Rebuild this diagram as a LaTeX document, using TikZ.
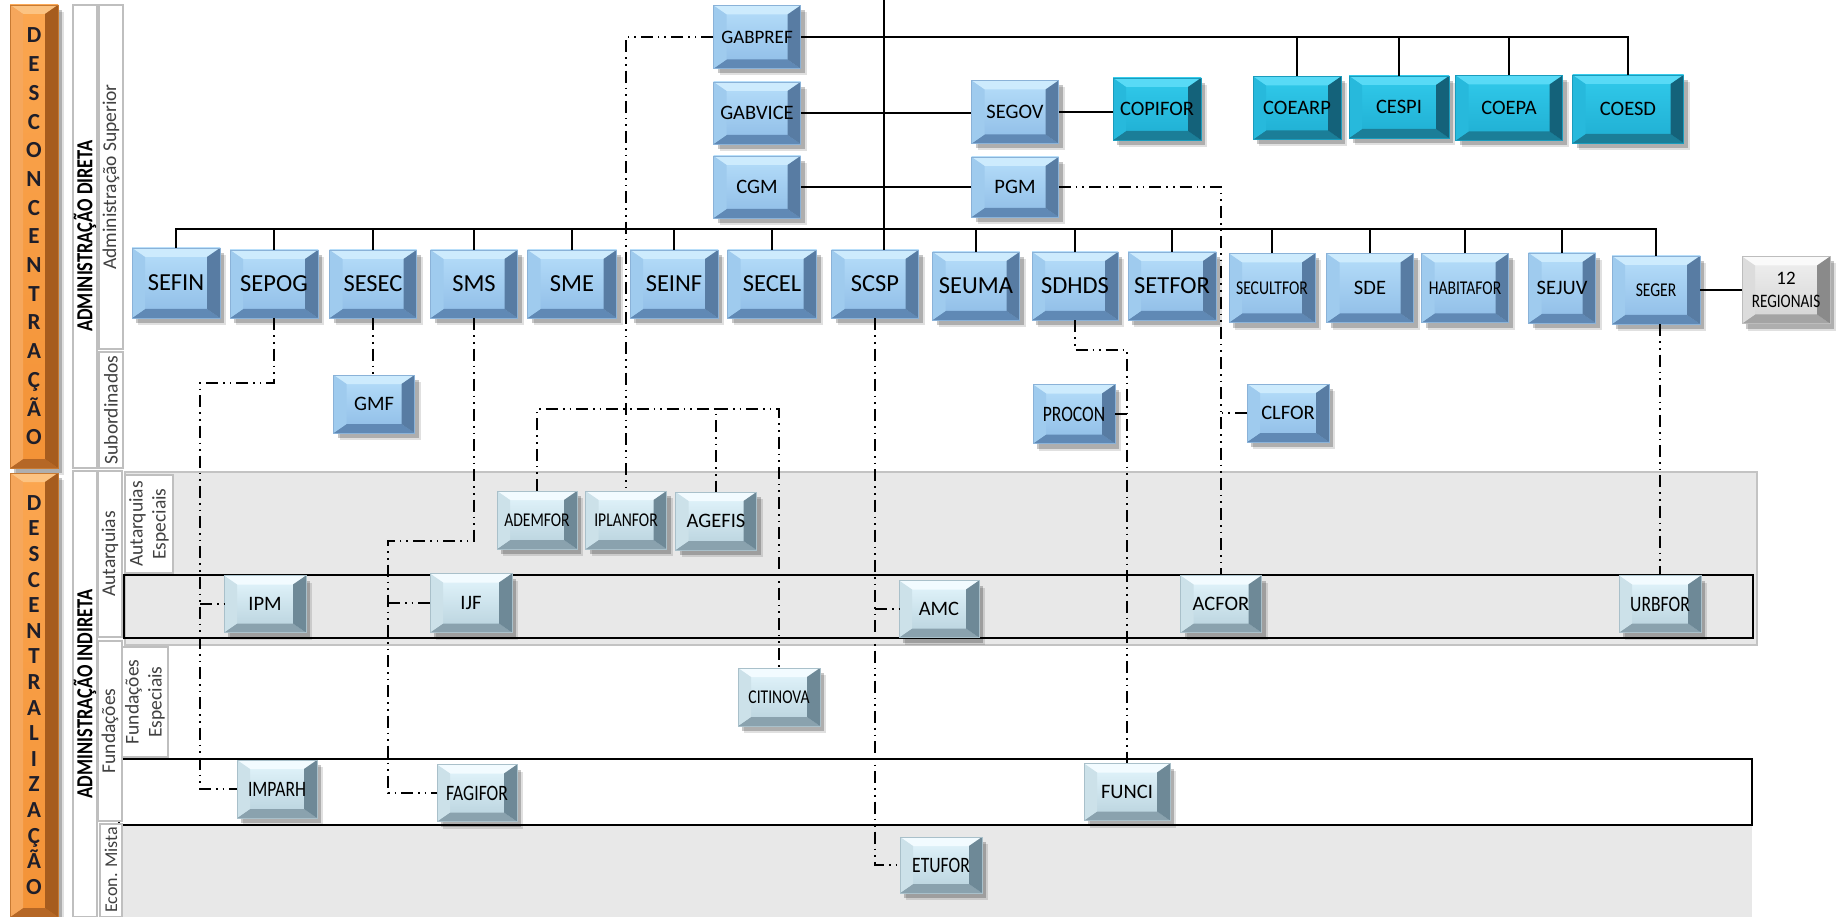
\documentclass[tikz,border=0pt]{standalone}
\usepackage{fontspec}
\setmainfont{Carlito}
\newfontfamily\narrow[FakeStretch=0.8]{Carlito}
\usetikzlibrary{shadows}

% cores dos botoes
\definecolor{azulF1}{HTML}{B6DEFA}
\definecolor{azulF2}{HTML}{8EBCE6}
\definecolor{azulT}{HTML}{CDEBFD}
\definecolor{azulL}{HTML}{9FCBEE}
\definecolor{azulR}{HTML}{587CA3}
\definecolor{azulB}{HTML}{6089B5}
\definecolor{azulD}{HTML}{8AB2D8}
\definecolor{cianoF1}{HTML}{31CAEB}
\definecolor{cianoF2}{HTML}{1FAED2}
\definecolor{cianoT}{HTML}{58DAF6}
\definecolor{cianoL}{HTML}{27B9DC}
\definecolor{cianoR}{HTML}{14627A}
\definecolor{cianoB}{HTML}{1B7E98}
\definecolor{cianoD}{HTML}{1A9CBD}
\definecolor{acoF1}{HTML}{E4F6FD}
\definecolor{acoF2}{HTML}{B7D1DC}
\definecolor{acoT}{HTML}{F2FBFF}
\definecolor{acoL}{HTML}{CCE1E9}
\definecolor{acoR}{HTML}{6E8997}
\definecolor{acoB}{HTML}{8AA2AE}
\definecolor{acoD}{HTML}{A9C0CA}
\definecolor{cinzaF1}{HTML}{F0F0F0}
\definecolor{cinzaF2}{HTML}{D3D3D3}
\definecolor{cinzaT}{HTML}{FAFAFA}
\definecolor{cinzaL}{HTML}{DCDCDC}
\definecolor{cinzaR}{HTML}{8A8A8A}
\definecolor{cinzaB}{HTML}{A4A4A4}
\definecolor{cinzaD}{HTML}{BDBDBD}
\definecolor{laranjaF1}{HTML}{FBA650}
\definecolor{laranjaF2}{HTML}{F39236}
\definecolor{laranjaT}{HTML}{FCC382}
\definecolor{laranjaL}{HTML}{F6A75C}
\definecolor{laranjaR}{HTML}{A65C1E}
\definecolor{laranjaB}{HTML}{B56726}
\definecolor{laranjaD}{HTML}{C77A33}
\definecolor{letra}{HTML}{1E1E2A}
\definecolor{rotcor}{HTML}{404040}
\definecolor{faixaD}{HTML}{BFBFBF}
\definecolor{fundo}{HTML}{E8E8E8}
\definecolor{fundoD}{HTML}{C3C3C3}

\def\bvx{13pt}
\def\bvy{9pt}
\newcommand\botao[1]{%
  \fill[#1T] (path picture bounding box.north west) -- (path picture bounding box.north east)
    -- ([xshift=-\bvx,yshift=-\bvy]path picture bounding box.north east)
    -- ([xshift=\bvx,yshift=-\bvy]path picture bounding box.north west) -- cycle;
  \fill[#1B] (path picture bounding box.south west) -- (path picture bounding box.south east)
    -- ([xshift=-\bvx,yshift=\bvy]path picture bounding box.south east)
    -- ([xshift=\bvx,yshift=\bvy]path picture bounding box.south west) -- cycle;
  \fill[#1L] (path picture bounding box.north west) -- (path picture bounding box.south west)
    -- ([xshift=\bvx,yshift=\bvy]path picture bounding box.south west)
    -- ([xshift=\bvx,yshift=-\bvy]path picture bounding box.north west) -- cycle;
  \fill[#1R] (path picture bounding box.north east) -- (path picture bounding box.south east)
    -- ([xshift=-\bvx,yshift=\bvy]path picture bounding box.south east)
    -- ([xshift=-\bvx,yshift=-\bvy]path picture bounding box.north east) -- cycle;
}

\begin{document}
\begin{tikzpicture}[x=1pt, y=-1pt,
  btn/.style={rectangle, inner sep=1pt, align=center, text=black,
    top color=#1F1, bottom color=#1F2, draw=#1D, line width=0.6pt,
    drop shadow={shadow xshift=6pt, shadow yshift=-7pt, opacity=0.12, fill=black},
    drop shadow={shadow xshift=4pt, shadow yshift=-5pt, opacity=0.22, fill=black},
    path picture={\botao{#1}}},
  sz/.style 2 args={minimum width=#1pt, minimum height=#2pt},
  tA/.style={font=\fontsize{24.5}{26}\selectfont},
  tB/.style={font=\fontsize{20.5}{22}\selectfont},
  tC/.style={font=\narrow\fontsize{22}{24}\selectfont},
  tD/.style={font=\narrow\fontsize{19.5}{22}\selectfont},
  con/.style={draw=black, line width=1.8pt},
  dd/.style={draw=black, line width=1.6pt, dash pattern=on 12pt off 5pt on 1.6pt off 5pt on 1.6pt off 5pt},
  faixa/.style={draw=faixaD, line width=1.5pt, fill=white},
  rot/.style={rotate=90, text=rotcor, font=\fontsize{19.5}{23}\selectfont, align=center},
  forte/.style={rotate=90, text=black, font=\narrow\bfseries\fontsize{23}{25}\selectfont}
]
\useasboundingbox (0,0) rectangle (1839,917);
\fill[white] (0,0) rectangle (1839,917);

% fundos da administracao indireta
\filldraw[fill=fundo, draw=fundoD, line width=1.5pt] (125,472) rectangle (1757,645);
\draw[black, line width=2pt] (124,575) rectangle (1753,638);
\draw[black, line width=2pt, fill=white] (119,759) rectangle (1752,825);
\fill[fundo] (122,826) rectangle (1752,917);

% faixas laterais
\node[btn=laranja, sz={48}{463}, text=letra, font=\bfseries\fontsize{23}{28.7}\selectfont] (DESCONC) at (34,236.5)
  {D\\E\\S\\C\\O\\N\\C\\E\\N\\T\\R\\A\\Ç\\Ã\\O};
\node[btn=laranja, sz={48}{444}, text=letra, font=\bfseries\fontsize{23}{25.6}\selectfont] (DESCENTR) at (34,695)
  {D\\E\\S\\C\\E\\N\\T\\R\\A\\L\\I\\Z\\A\\Ç\\Ã\\O};

\draw[faixa] (73,5) rectangle (97,468);
\node[forte] (admdireta) at (85,236) {ADMINISTRAÇÃO DIRETA};
\draw[faixa] (99,5) rectangle (123,349);
\node[rot] (admsup) at (111,177) {Administração Superior};
\draw[faixa] (99,352) rectangle (123,468);
\node[rot] (subord) at (111,410) {Subordinados};
\draw[faixa] (73,471) rectangle (97,917);
\node[forte] (admind) at (85,694) {ADMINISTRAÇÃO INDIRETA};
\draw[faixa] (98,471) rectangle (122,637);
\node[rot] (autarq) at (110,554) {Autarquias};
\draw[faixa] (98,641) rectangle (122,821);
\node[rot] (fundac) at (110,731) {Fundações};
\draw[faixa] (100,824) rectangle (122,917);
\node[rot, font=\fontsize{18}{19}\selectfont] (econ) at (111,870) {Econ. Mista};
\draw[faixa] (125,475) rectangle (173,573);
\node[rot] (autesp) at (149,524) {Autarquias\\Especiais};
\draw[faixa] (122,647) rectangle (168,757);
\node[rot] (fundesp) at (145,702) {Fundações\\Especiais};

% administracao superior
\node[btn=azul, sz={87}{63}, font=\fontsize{19}{20}\selectfont] (GABPREF) at (757,37) {GABPREF};
\node[btn=azul, sz={87}{62}, tB] (GABVICE) at (757,113) {GABVICE};
\node[btn=azul, sz={87}{62}, tB] (CGM) at (757,187) {CGM};
\node[btn=azul, sz={87}{63}, tB] (SEGOV) at (1015,112) {SEGOV};
\node[btn=azul, sz={87}{60}, tB] (PGM) at (1015,187) {PGM};
\node[btn=ciano, sz={88}{62}, tB] (COPIFOR) at (1157,109) {COPIFOR};
\node[btn=ciano, sz={88}{63}, tB] (COEARP) at (1297,108) {COEARP};
\node[btn=ciano, sz={100}{62}, tB] (CESPI) at (1399,107) {CESPI};
\node[btn=ciano, sz={107}{65}, tB] (COEPA) at (1509,108) {COEPA};
\node[btn=ciano, sz={111}{68}, tB] (COESD) at (1628,109) {COESD};

% secretarias
\node[btn=azul, sz={88}{70}, tA] (SEFIN) at (176,283) {SEFIN};
\node[btn=azul, sz={88}{68}, tA] (SEPOG) at (274,284) {SEPOG};
\node[btn=azul, sz={87}{68}, tA] (SESEC) at (373,284) {SESEC};
\node[btn=azul, sz={87}{68}, tA] (SMS) at (474,284) {SMS};
\node[btn=azul, sz={89}{68}, tA] (SME) at (572,284) {SME};
\node[btn=azul, sz={88}{68}, tA] (SEINF) at (674,284) {SEINF};
\node[btn=azul, sz={89}{68}, tA] (SECEL) at (772,284) {SECEL};
\node[btn=azul, sz={87}{68}, tA] (SCSP) at (875,284) {SCSP};
\node[btn=azul, sz={87}{68}, tA] (SEUMA) at (976,286) {SEUMA};
\node[btn=azul, sz={86}{68}, tA] (SDHDS) at (1075,286) {SDHDS};
\node[btn=azul, sz={88}{68}, tA] (SETFOR) at (1172,286) {SETFOR};
\node[btn=azul, sz={86}{69}, tD] (SECULTFOR) at (1272,288) {SECULTFOR};
\node[btn=azul, sz={87}{69}, tB] (SDE) at (1370,288) {SDE};
\node[btn=azul, sz={87}{69}, tD] (HABITAFOR) at (1465,288) {HABITAFOR};
\node[btn=azul, sz={67}{70}, tB] (SEJUV) at (1562,288) {SEJUV};
\node[btn=azul, sz={88}{68}, tD] (SEGER) at (1656,290) {SEGER};
\node[btn=cinza, sz={88}{67}, font=\fontsize{19}{23}\selectfont] (REG) at (1786,290) {12\\{\narrow REGIONAIS}};

% subordinados
\node[btn=azul, sz={81}{58}, tB] (GMF) at (374,404) {GMF};
\node[btn=azul, sz={82}{59}, tC] (PROCON) at (1074,414) {PROCON};
\node[btn=azul, sz={82}{58}, tB] (CLFOR) at (1288,413) {CLFOR};

% administracao indireta
\node[btn=aco, sz={80}{58}, tD] (ADEMFOR) at (537,520) {ADEMFOR};
\node[btn=aco, sz={81}{58}, tD] (IPLANFOR) at (626,520) {IPLANFOR};
\node[btn=aco, sz={81}{58}, tB] (AGEFIS) at (716,521) {AGEFIS};
\node[btn=aco, sz={82}{57}, tB] (IPM) at (265,604) {IPM};
\node[btn=aco, sz={82}{59}, tB] (IJF) at (471,603) {IJF};
\node[btn=aco, sz={80}{57}, tB] (AMC) at (939,609) {AMC};
\node[btn=aco, sz={81}{57}, tB] (ACFOR) at (1221,604) {ACFOR};
\node[btn=aco, sz={82}{57}, tC] (URBFOR) at (1660,604) {URBFOR};
\node[btn=aco, sz={82}{58}, tD] (CITINOVA) at (779,697) {CITINOVA};
\node[btn=aco, sz={80}{58}, tC] (IMPARH) at (277,789) {IMPARH};
\node[btn=aco, sz={80}{57}, tC] (FAGIFOR) at (477,793) {FAGIFOR};
\node[btn=aco, sz={86}{57}, tB] (FUNCI) at (1127,792) {FUNCI};
\node[btn=aco, sz={82}{56}, tC] (ETUFOR) at (941,865) {ETUFOR};

% linhas cheias
\coordinate (topo) at (884,0);
\coordinate (barra) at (0,229);
\draw[con] (topo) -- (topo |- SCSP.north);
\draw[con] (GABPREF.east) -| (COESD.north);
\draw[con] (COEARP.north) -- (COEARP.north |- GABPREF.east)
  (CESPI.north) -- (CESPI.north |- GABPREF.east)
  (COEPA.north) -- (COEPA.north |- GABPREF.east);
\draw[con] (GABVICE.east) -- (GABVICE.east -| SEGOV.west);
\draw[con] (SEGOV.east) -- (SEGOV.east -| COPIFOR.west);
\draw[con] (CGM.east) -- (PGM.west);
\draw[con] (SEFIN.north) |- (SEGER.north |- barra) -- (SEGER.north);
\draw[con] (SEPOG.north) -- (SEPOG.north |- barra)
  (SESEC.north) -- (SESEC.north |- barra)
  (SMS.north) -- (SMS.north |- barra)
  (SME.north) -- (SME.north |- barra)
  (SEINF.north) -- (SEINF.north |- barra)
  (SECEL.north) -- (SECEL.north |- barra)
  (SEUMA.north) -- (SEUMA.north |- barra)
  (SDHDS.north) -- (SDHDS.north |- barra)
  (SETFOR.north) -- (SETFOR.north |- barra)
  (SECULTFOR.north) -- (SECULTFOR.north |- barra)
  (SDE.north) -- (SDE.north |- barra)
  (HABITAFOR.north) -- (HABITAFOR.north |- barra)
  (SEJUV.north) -- (SEJUV.north |- barra);
\draw[con] (SEGER.east) -- (SEGER.east -| REG.west);

% linhas traco-ponto
\coordinate (espbar) at (0,409);
\coordinate (ipmlin) at (200,383);
\coordinate (ijflin) at (388,541);
\coordinate (funlin) at (0,350);
\draw[dd] (GABPREF.west) -| (IPLANFOR.north);
\draw[dd] (ADEMFOR.north) |- (AGEFIS.north |- espbar) -- (AGEFIS.north);
\draw[dd] (AGEFIS.north |- espbar) -| (CITINOVA.north);
\draw[dd] (SESEC.south) -- (SESEC.south |- GMF.north);
\draw[dd] (SEPOG.south) |- (ipmlin) |- (IMPARH.west);
\draw[dd] (ipmlin |- IPM.west) -- (IPM.west);
\draw[dd] (SMS.south) |- (ijflin) |- (FAGIFOR.west);
\draw[dd] (ijflin |- IJF.west) -- (IJF.west);
\draw[dd] (SCSP.south) |- (ETUFOR.west);
\draw[dd] (SCSP.south |- AMC.west) -- (AMC.west);
\draw[dd] (SDHDS.south) |- (FUNCI.north |- funlin) -- (FUNCI.north);
\draw[dd] (PROCON.east) -- (PROCON.east -| FUNCI.north);
\draw[dd] (PGM.east) -| (ACFOR.north);
\draw[dd] (CLFOR.west) -- (CLFOR.west -| ACFOR.north);
\draw[dd] (URBFOR.north |- SEGER.south) -- (URBFOR.north);
\end{tikzpicture}
\end{document}
